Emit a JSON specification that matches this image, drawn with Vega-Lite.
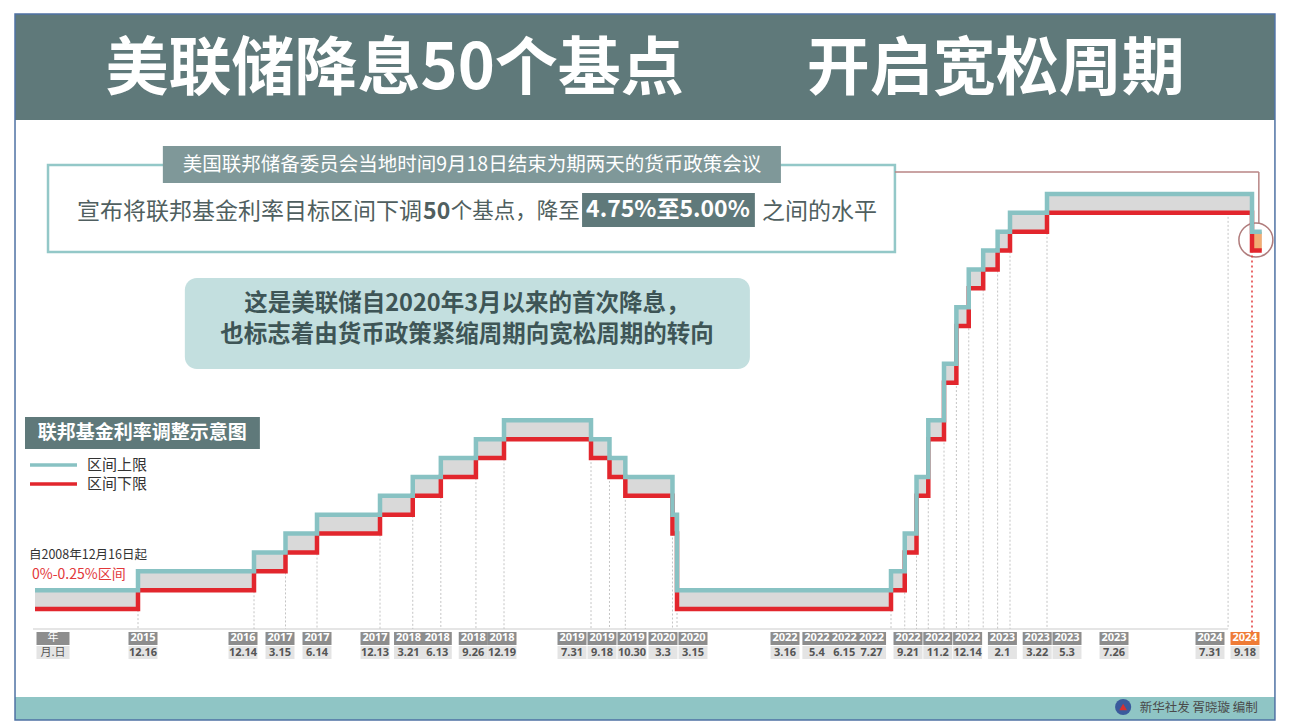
{
"$schema":"https://vega.github.io/schema/vega-lite/v6.json",
"width":1299,"height":728,"padding":0,
"autosize":{"type":"none"},
"background":"#ffffff",
"config":{"view":{"stroke":null},"axis":{"disable":true},"font":"Noto Sans CJK SC"},
"datasets":{"rates":[
{"date":"2008-12-16","upper":0.25,"lower":0,"year":null,"md":null},
{"date":"2015-12-16","upper":0.5,"lower":0.25,"year":"2015","md":"12.16"},
{"date":"2016-12-14","upper":0.75,"lower":0.5,"year":"2016","md":"12.14"},
{"date":"2017-03-15","upper":1.0,"lower":0.75,"year":"2017","md":"3.15"},
{"date":"2017-06-14","upper":1.25,"lower":1.0,"year":"2017","md":"6.14"},
{"date":"2017-12-13","upper":1.5,"lower":1.25,"year":"2017","md":"12.13"},
{"date":"2018-03-21","upper":1.75,"lower":1.5,"year":"2018","md":"3.21"},
{"date":"2018-06-13","upper":2.0,"lower":1.75,"year":"2018","md":"6.13"},
{"date":"2018-09-26","upper":2.25,"lower":2.0,"year":"2018","md":"9.26"},
{"date":"2018-12-19","upper":2.5,"lower":2.25,"year":"2018","md":"12.19"},
{"date":"2019-07-31","upper":2.25,"lower":2.0,"year":"2019","md":"7.31"},
{"date":"2019-09-18","upper":2.0,"lower":1.75,"year":"2019","md":"9.18"},
{"date":"2019-10-30","upper":1.75,"lower":1.5,"year":"2019","md":"10.30"},
{"date":"2020-03-03","upper":1.25,"lower":1.0,"year":"2020","md":"3.3"},
{"date":"2020-03-15","upper":0.25,"lower":0,"year":"2020","md":"3.15"},
{"date":"2022-03-16","upper":0.5,"lower":0.25,"year":"2022","md":"3.16"},
{"date":"2022-05-04","upper":1.0,"lower":0.75,"year":"2022","md":"5.4"},
{"date":"2022-06-15","upper":1.75,"lower":1.5,"year":"2022","md":"6.15"},
{"date":"2022-07-27","upper":2.5,"lower":2.25,"year":"2022","md":"7.27"},
{"date":"2022-09-21","upper":3.25,"lower":3.0,"year":"2022","md":"9.21"},
{"date":"2022-11-02","upper":4.0,"lower":3.75,"year":"2022","md":"11.2"},
{"date":"2022-12-14","upper":4.5,"lower":4.25,"year":"2022","md":"12.14"},
{"date":"2023-02-01","upper":4.75,"lower":4.5,"year":"2023","md":"2.1"},
{"date":"2023-03-22","upper":5.0,"lower":4.75,"year":"2023","md":"3.22"},
{"date":"2023-05-03","upper":5.25,"lower":5.0,"year":"2023","md":"5.3"},
{"date":"2023-07-26","upper":5.5,"lower":5.25,"year":"2023","md":"7.26"},
{"date":"2024-07-31","upper":5.5,"lower":5.25,"year":"2024","md":"7.31"},
{"date":"2024-09-18","upper":5.0,"lower":4.75,"year":"2024","md":"9.18"},
{"date":"2024-10-08","upper":5.0,"lower":4.75,"year":null,"md":null}
]},
"layer":[
{"data":{"values":[{}]},
 "layer":[
  {"mark":{"type":"rect","color":"#5f797a"},
   "encoding":{
    "x":{"datum":{"year":2007,"month":8,"date":8},"type":"temporal","scale":{"type":"time","padding":0,"nice":false,
      "domain":{"expr":"[utc(2008,11,16),utc(2015,11,16),utc(2016,11,14),utc(2017,11,13),utc(2018,11,19),utc(2019,6,31),utc(2020,2,15),utc(2022,2,16),utc(2022,8,21),utc(2023,4,3),utc(2023,6,26),utc(2024,8,18)]"},
      "range":[35,138,254,380,504,591,677,891,944,1010,1047,1252]}},
    "x2":{"datum":{"year":2024,"month":11,"date":4}},
    "y":{"datum":7.8855,"type":"quantitative","scale":{"domain":[0,5.5],"range":[609,194],"nice":false,"zero":false,"padding":0}},
    "y2":{"datum":6.4807}}},
  {"mark":{"type":"rect","color":"#8fc5c5"},
   "encoding":{"x":{"datum":{"year":2007,"month":8,"date":8},"type":"temporal"},"x2":{"datum":{"year":2024,"month":11,"date":4}},
    "y":{"datum":-1.1663,"type":"quantitative"},"y2":{"datum":-1.4711}}},
  {"mark":{"type":"rect","fillOpacity":0,"stroke":"#4f72a4","strokeWidth":1.5},
   "encoding":{"x":{"datum":{"year":2007,"month":8,"date":8},"type":"temporal"},"x2":{"datum":{"year":2024,"month":11,"date":4}},
    "y":{"datum":7.8855,"type":"quantitative"},"y2":{"datum":-1.4711}}},
  {"mark":{"type":"text","text":"美联储降息50个基点","fontSize":63,"fontWeight":"bold","color":"#ffffff","align":"center","baseline":"middle"},
   "encoding":{"x":{"datum":{"year":2018,"month":1,"date":26},"type":"temporal"},"y":{"datum":7.1434,"type":"quantitative"}}},
  {"mark":{"type":"text","text":"开启宽松周期","fontSize":63,"fontWeight":"bold","color":"#ffffff","align":"center","baseline":"middle"},
   "encoding":{"x":{"datum":{"year":2023,"month":3,"date":16},"type":"temporal"},"y":{"datum":7.1434,"type":"quantitative"}}},
  {"mark":{"type":"rect","fill":"#ffffff","stroke":"#93c8c8","strokeWidth":2.5},
   "encoding":{"x":{"datum":{"year":2009,"month":11,"date":4},"type":"temporal"},"x2":{"datum":{"year":2022,"month":3,"date":30}},
    "y":{"datum":5.8843,"type":"quantitative"},"y2":{"datum":4.7313}}},
  {"mark":{"type":"rect","color":"#7f9899"},
   "encoding":{"x":{"datum":{"year":2016,"month":3,"date":3},"type":"temporal"},"x2":{"datum":{"year":2021,"month":3,"date":5}},
    "y":{"datum":6.1361,"type":"quantitative"},"y2":{"datum":5.6458}}},
  {"mark":{"type":"text","text":"美国联邦储备委员会当地时间9月18日结束为期两天的货币政策会议","fontSize":19.5,"color":"#ffffff","align":"center","baseline":"middle"},
   "encoding":{"x":{"datum":{"year":2018,"month":9,"date":14},"type":"temporal"},"y":{"datum":5.8909,"type":"quantitative"}}},
  {"mark":{"type":"text","text":"宣布将联邦基金利率目标区间下调","fontSize":23,"color":"#505f60","align":"right","baseline":"middle"},
   "encoding":{"x":{"datum":{"year":2018,"month":4,"date":18},"type":"temporal"},"y":{"datum":5.2614,"type":"quantitative"}}},
  {"mark":{"type":"text","text":"50","fontSize":23,"fontWeight":"bold","color":"#505f60","align":"left","baseline":"middle"},
   "encoding":{"x":{"datum":{"year":2018,"month":4,"date":21},"type":"temporal"},"y":{"datum":5.2614,"type":"quantitative"}}},
  {"mark":{"type":"text","text":"个基点，降至","fontSize":21.5,"color":"#505f60","align":"left","baseline":"middle"},
   "encoding":{"x":{"datum":{"year":2018,"month":7,"date":13},"type":"temporal"},"y":{"datum":5.2614,"type":"quantitative"}}},
  {"mark":{"type":"rect","color":"#5f797a"},
   "encoding":{"x":{"datum":{"year":2019,"month":7,"date":8},"type":"temporal"},"x2":{"datum":{"year":2020,"month":12,"date":6}},
    "y":{"datum":5.5133,"type":"quantitative"},"y2":{"datum":5.0627}}},
  {"mark":{"type":"text","text":"4.75%至5.00%","fontSize":23,"fontWeight":"bold","color":"#ffffff","align":"center","baseline":"middle"},
   "encoding":{"x":{"datum":{"year":2020,"month":2,"date":20},"type":"temporal"},"y":{"datum":5.2879,"type":"quantitative"}}},
  {"mark":{"type":"text","text":"之间的水平","fontSize":23,"color":"#505f60","align":"left","baseline":"middle"},
   "encoding":{"x":{"datum":{"year":2020,"month":12,"date":30},"type":"temporal"},"y":{"datum":5.2614,"type":"quantitative"}}},
  {"mark":{"type":"rule","color":"#b88585","strokeWidth":1.5},
   "encoding":{"x":{"datum":{"year":2022,"month":3,"date":30},"type":"temporal"},"x2":{"datum":{"year":2024,"month":10,"date":2}},
    "y":{"datum":5.7916,"type":"quantitative"}}},
  {"mark":{"type":"rule","color":"#b88585","strokeWidth":1.5},
   "encoding":{"x":{"datum":{"year":2024,"month":10,"date":2},"type":"temporal"},
    "y":{"datum":5.7916,"type":"quantitative"},"y2":{"datum":5.1157}}},
  {"mark":{"type":"point","shape":"circle","filled":false,"size":1156,"stroke":"#b07c7c","strokeWidth":1.5,"opacity":1},
   "encoding":{"x":{"datum":{"year":2024,"month":9,"date":26},"type":"temporal"},"y":{"datum":4.8904,"type":"quantitative"}}},
  {"mark":{"type":"rect","color":"#c3dfdf","cornerRadius":12},
   "encoding":{"x":{"datum":{"year":2016,"month":5,"date":11},"type":"temporal"},"x2":{"datum":{"year":2020,"month":11,"date":19}},
    "y":{"datum":4.3867,"type":"quantitative"},"y2":{"datum":3.1807}}},
  {"mark":{"type":"text","text":"这是美联储自2020年3月以来的首次降息，","fontSize":23.5,"fontWeight":"bold","color":"#3e5556","align":"center","baseline":"middle"},
   "encoding":{"x":{"datum":{"year":2018,"month":8,"date":30},"type":"temporal"},"y":{"datum":4.0422,"type":"quantitative"}}},
  {"mark":{"type":"text","text":"也标志着由货币政策紧缩周期向宽松周期的转向","fontSize":23.5,"fontWeight":"bold","color":"#3e5556","align":"center","baseline":"middle"},
   "encoding":{"x":{"datum":{"year":2018,"month":8,"date":30},"type":"temporal"},"y":{"datum":3.6313,"type":"quantitative"}}},
  {"mark":{"type":"rect","color":"#5f797a"},
   "encoding":{"x":{"datum":{"year":2008,"month":4,"date":12},"type":"temporal"},"x2":{"datum":{"year":2016,"month":12,"date":31}},
    "y":{"datum":2.5446,"type":"quantitative"},"y2":{"datum":2.1205}}},
  {"mark":{"type":"text","text":"联邦基金利率调整示意图","fontSize":19,"fontWeight":"bold","color":"#ffffff","align":"center","baseline":"middle"},
   "encoding":{"x":{"datum":{"year":2015,"month":12,"date":29},"type":"temporal"},"y":{"datum":2.3325,"type":"quantitative"}}},
  {"mark":{"type":"rule","color":"#88c2c3","strokeWidth":3.5},
   "encoding":{"x":{"datum":{"year":2008,"month":8,"date":14},"type":"temporal"},"x2":{"datum":{"year":2011,"month":10,"date":24}},
    "y":{"datum":1.9085,"type":"quantitative"}}},
  {"mark":{"type":"rule","color":"#e2262d","strokeWidth":3.5},
   "encoding":{"x":{"datum":{"year":2008,"month":8,"date":14},"type":"temporal"},"x2":{"datum":{"year":2011,"month":10,"date":24}},
    "y":{"datum":1.6566,"type":"quantitative"}}},
  {"mark":{"type":"text","text":"区间上限","fontSize":15,"color":"#333333","align":"left","baseline":"middle"},
   "encoding":{"x":{"datum":{"year":2012,"month":6,"date":28},"type":"temporal"},"y":{"datum":1.9085,"type":"quantitative"}}},
  {"mark":{"type":"text","text":"区间下限","fontSize":15,"color":"#333333","align":"left","baseline":"middle"},
   "encoding":{"x":{"datum":{"year":2012,"month":6,"date":28},"type":"temporal"},"y":{"datum":1.6566,"type":"quantitative"}}},
  {"mark":{"type":"text","text":"自2008年12月16日起","fontSize":12.5,"color":"#333333","align":"left","baseline":"middle"},
   "encoding":{"x":{"datum":{"year":2008,"month":7,"date":20},"type":"temporal"},"y":{"datum":0.7157,"type":"quantitative"}}},
  {"mark":{"type":"text","text":"0%-0.25%区间","fontSize":14,"color":"#e2383a","align":"left","baseline":"middle"},
   "encoding":{"x":{"datum":{"year":2008,"month":10,"date":3},"type":"temporal"},"y":{"datum":0.4506,"type":"quantitative"}}},
  {"mark":{"type":"rule","color":"#dddddd","strokeWidth":1.5},
   "encoding":{"x":{"datum":{"year":2008,"month":10,"date":27},"type":"temporal"},"x2":{"datum":{"year":2024,"month":7,"date":31}},
    "y":{"datum":-0.2651,"type":"quantitative"}}},
  {"mark":{"type":"point","shape":"circle","filled":true,"size":260,"color":"#3a5a9c","opacity":1},
   "encoding":{"x":{"datum":{"year":2023,"month":12,"date":29},"type":"temporal"},"y":{"datum":-1.2988,"type":"quantitative"}}},
  {"mark":{"type":"point","shape":"triangle-up","filled":true,"size":60,"color":"#d8302f","opacity":1},
   "encoding":{"x":{"datum":{"year":2023,"month":12,"date":29},"type":"temporal"},"y":{"datum":-1.2988,"type":"quantitative"}}},
  {"mark":{"type":"text","text":"新华社发 胥晓璇 编制","fontSize":12.5,"color":"#4a4a4a","align":"left","baseline":"middle"},
   "encoding":{"x":{"datum":{"year":2024,"month":2,"date":1},"type":"temporal"},"y":{"datum":-1.312,"type":"quantitative"}}},
  {"data":{"name":"rates","format":{"parse":{"date":"date"}}},
   "transform":[{"filter":"datum.date > utc(2009,0,1) && datum.date < utc(2024,8,1)"}],
   "mark":{"type":"rule","color":"#c4c4c4","strokeWidth":1,"strokeDash":[2,2]},
   "encoding":{"x":{"field":"date","type":"temporal"},"y":{"field":"lower","type":"quantitative"},"y2":{"datum":-0.2651}}},
  {"data":{"name":"rates","format":{"parse":{"date":"date"}}},
   "transform":[{"filter":"datum.year === '2024' && datum.md === '9.18'"}],
   "mark":{"type":"rule","color":"#e2383a","strokeWidth":1.5,"strokeDash":[2,3]},
   "encoding":{"x":{"field":"date","type":"temporal"},"y":{"field":"lower","type":"quantitative"},"y2":{"datum":-0.3048}}},
  {"data":{"name":"rates","format":{"parse":{"date":"date"}}},
   "mark":{"type":"area","interpolate":"step-after","color":"#d9d9d9"},
   "encoding":{"x":{"field":"date","type":"temporal"},"y":{"field":"upper","type":"quantitative"},"y2":{"field":"lower"}}},
  {"data":{"name":"rates","format":{"parse":{"date":"date"}}},
   "transform":[{"filter":"datum.date >= utc(2024,8,18)"}],
   "mark":{"type":"area","interpolate":"step-after","color":"#f2ad74"},
   "encoding":{"x":{"field":"date","type":"temporal"},"y":{"field":"upper","type":"quantitative"},"y2":{"field":"lower"}}},
  {"data":{"name":"rates","format":{"parse":{"date":"date"}}},
   "mark":{"type":"line","interpolate":"step-after","color":"#e2262d","strokeWidth":4.5},
   "encoding":{"x":{"field":"date","type":"temporal"},"y":{"field":"lower","type":"quantitative"}}},
  {"data":{"name":"rates","format":{"parse":{"date":"date"}}},
   "mark":{"type":"line","interpolate":"step-after","color":"#88c2c3","strokeWidth":4.5},
   "encoding":{"x":{"field":"date","type":"temporal"},"y":{"field":"upper","type":"quantitative"}}}
 ]},
{"data":{"name":"rates","format":{"parse":{"date":"date"}}},
 "layer":[
  {"transform":[{"filter":"isValid(datum.md)"}],
   "mark":{"type":"bar","width":29},
   "encoding":{
    "x":{"field":"date","type":"temporal","scale":{"type":"time","padding":0,"nice":false,
      "domain":{"expr":"[utc(2008,11,16),utc(2015,11,16),utc(2016,11,14),utc(2017,5,14),utc(2017,11,13),utc(2018,11,19),utc(2019,6,31),utc(2019,8,18),utc(2019,9,30),utc(2020,2,3),utc(2020,2,15),utc(2022,2,16),utc(2022,8,21),utc(2023,4,3),utc(2023,6,26),utc(2024,6,31),utc(2024,8,18)]"},
      "range":[53,143,243,317,375,502,572,602,632,663,693,785,908,1067,1114,1210,1245]}},
    "y":{"datum":-0.3048,"type":"quantitative"},"y2":{"datum":-0.4771},
    "color":{"condition":{"test":"datum.year === '2024' && datum.md === '9.18'","value":"#ef7b36"},"value":"#8d8d8d"}}},
  {"transform":[{"filter":"isValid(datum.md)"}],
   "mark":{"type":"bar","width":29,"color":"#e4e4e4"},
   "encoding":{"x":{"field":"date","type":"temporal"},"y":{"datum":-0.4904,"type":"quantitative"},"y2":{"datum":-0.6627}}},
  {"transform":[{"filter":"isValid(datum.md)"}],
   "mark":{"type":"text","font":"Noto Sans","fontSize":11,"fontWeight":"bold","color":"#ffffff","align":"center","baseline":"middle"},
   "encoding":{"x":{"field":"date","type":"temporal"},"y":{"datum":-0.3844,"type":"quantitative"},"text":{"field":"year","type":"nominal"}}},
  {"transform":[{"filter":"isValid(datum.md)"}],
   "mark":{"type":"text","font":"Noto Sans","fontSize":11,"fontWeight":"bold","color":"#555555","align":"center","baseline":"middle"},
   "encoding":{"x":{"field":"date","type":"temporal"},"y":{"datum":-0.5832,"type":"quantitative"},"text":{"field":"md","type":"nominal"}}},
  {"data":{"values":[{}]},
   "mark":{"type":"bar","width":33,"color":"#8d8d8d"},
   "encoding":{"x":{"datum":{"year":2008,"month":12,"date":16,"utc":true},"type":"temporal"},"y":{"datum":-0.3048,"type":"quantitative"},"y2":{"datum":-0.4771}}},
  {"data":{"values":[{}]},
   "mark":{"type":"bar","width":33,"color":"#e4e4e4"},
   "encoding":{"x":{"datum":{"year":2008,"month":12,"date":16,"utc":true},"type":"temporal"},"y":{"datum":-0.4904,"type":"quantitative"},"y2":{"datum":-0.6627}}},
  {"data":{"values":[{}]},
   "mark":{"type":"text","text":"年","fontSize":11,"color":"#ffffff","align":"center","baseline":"middle"},
   "encoding":{"x":{"datum":{"year":2008,"month":12,"date":16,"utc":true},"type":"temporal"},"y":{"datum":-0.3844,"type":"quantitative"}}},
  {"data":{"values":[{}]},
   "mark":{"type":"text","text":"月.日","fontSize":11,"color":"#555555","align":"center","baseline":"middle"},
   "encoding":{"x":{"datum":{"year":2008,"month":12,"date":16,"utc":true},"type":"temporal"},"y":{"datum":-0.5832,"type":"quantitative"}}}
 ]}
],
"resolve":{"scale":{"x":"independent"}}
}
